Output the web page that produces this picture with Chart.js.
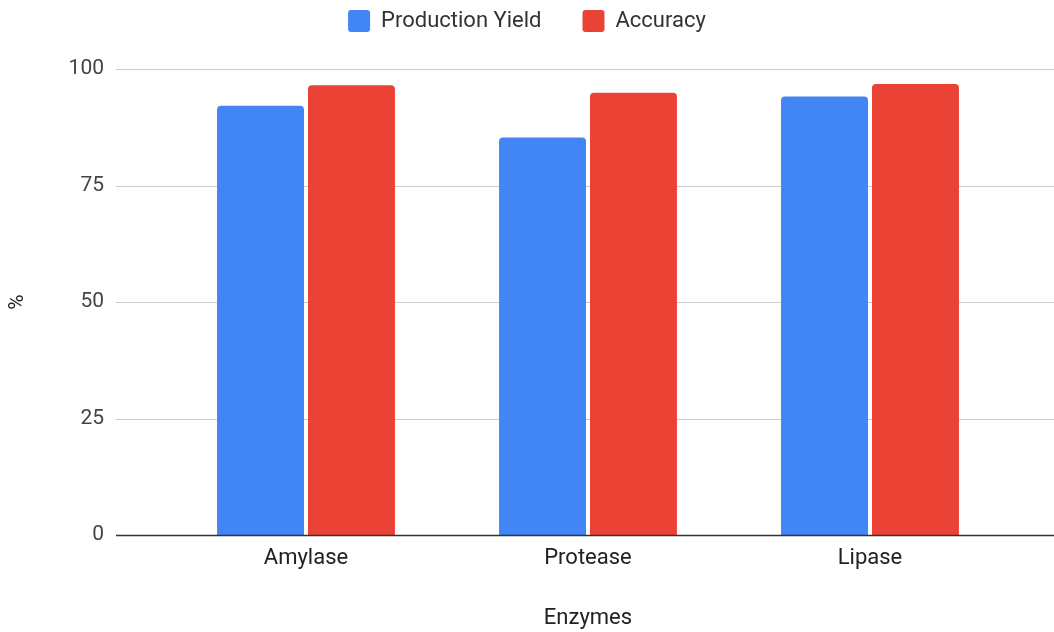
<!DOCTYPE html>
<html>
<head>
<meta charset="utf-8">
<script src="https://cdn.jsdelivr.net/npm/chart.js@4/dist/chart.umd.min.js"></script>
<style>
  html, body { margin: 0; padding: 0; background: #ffffff; }
  #wrap { width: 1054px; height: 632px; position: relative; }
</style>
</head>
<body>
<div id="wrap"><canvas id="chart"></canvas></div>
<script>
// Enzyme performance data (%)
const categories = ['Amylase', 'Protease', 'Lipase'];
const productionYield = [92.1, 85.3, 94.1];
const accuracy = [96.5, 94.9, 96.8];
const yTicks = [0, 25, 50, 75, 100];

const FONT = 'Roboto, "Liberation Sans", Arial, sans-serif';
const GRID_LEFT = 116;

// Empty layout boxes that reserve space (gap under the legend, right margin).
function spacer(position, size) {
  return {
    position,
    weight: 500,
    fullSize: false,
    options: {},
    isHorizontal() { return position === 'top' || position === 'bottom'; },
    update(maxWidth, maxHeight) {
      if (this.isHorizontal()) { this.width = maxWidth; this.height = size; }
      else { this.width = size; this.height = maxHeight; }
    },
    draw() {}
  };
}

const spacerPlugin = {
  id: 'spacers',
  beforeInit(chart) {
    Chart.layouts.addBox(chart, spacer('top', 27));
    Chart.layouts.addBox(chart, spacer('right', 43));
  }
};

// Horizontal gridlines running from the tick marks to the right edge,
// plus the darker zero baseline drawn over the bars.
const gridPlugin = {
  id: 'wideGrid',
  beforeDatasetsDraw(chart) {
    const y = chart.scales.y;
    const ctx = chart.ctx;
    ctx.save();
    ctx.strokeStyle = '#cccccc';
    ctx.lineWidth = 1;
    y.ticks.forEach(t => {
      if (t.value === 0) return;
      const py = Math.round(y.getPixelForValue(t.value)) + 0.5;
      ctx.beginPath();
      ctx.moveTo(GRID_LEFT, py);
      ctx.lineTo(chart.width, py);
      ctx.stroke();
    });
    ctx.restore();
  },
  afterDatasetsDraw(chart) {
    const y = chart.scales.y;
    const ctx = chart.ctx;
    const py = Math.round(y.getPixelForValue(0)) + 0.5;
    ctx.save();
    ctx.strokeStyle = '#333333';
    ctx.lineWidth = 1.5;
    ctx.beginPath();
    ctx.moveTo(GRID_LEFT, py);
    ctx.lineTo(chart.width, py);
    ctx.stroke();
    ctx.restore();
  }
};

const barStyle = {
  borderRadius: 4,
  borderSkipped: 'start',
  categoryPercentage: 0.645,
  barPercentage: 0.956
};

new Chart(document.getElementById('chart'), {
  type: 'bar',
  data: {
    labels: categories,
    datasets: [
      Object.assign({ label: 'Production Yield', data: productionYield, backgroundColor: '#4285F4' }, barStyle),
      Object.assign({ label: 'Accuracy', data: accuracy, backgroundColor: '#EA4335' }, barStyle)
    ]
  },
  options: {
    responsive: true,
    maintainAspectRatio: false,
    animation: false,
    layout: { padding: { top: -31, bottom: 0, left: 0, right: 0 } },
    plugins: {
      legend: {
        position: 'top',
        labels: {
          boxWidth: 22,
          boxHeight: 22,
          useBorderRadius: true,
          borderRadius: 3,
          padding: 41,
          color: '#333333',
          font: { family: FONT, size: 22 }
        }
      },
      tooltip: { enabled: false }
    },
    scales: {
      x: {
        grid: { display: false, drawTicks: false },
        border: { display: false },
        ticks: {
          padding: 10,
          color: '#222222',
          font: { family: FONT, size: 22 }
        },
        title: {
          display: true,
          text: 'Enzymes',
          color: '#222222',
          font: { family: FONT, size: 22 },
          padding: { top: 24, bottom: 0 }
        }
      },
      y: {
        min: 0,
        max: 100,
        afterFit(scale) {
          scale.width = 165;
          scale.paddingTop = 0;
          scale.paddingBottom = 0;
        },
        afterBuildTicks(scale) { scale.ticks = yTicks.map(v => ({ value: v })); },
        grid: { display: false, drawTicks: false },
        border: { display: false },
        ticks: {
          padding: 61,
          color: '#444444',
          font: { family: FONT, size: 21 }
        },
        title: {
          display: true,
          text: '%',
          color: '#222222',
          font: { family: FONT, size: 21 },
          padding: { top: 5, bottom: 0 }
        }
      }
    }
  },
  plugins: [spacerPlugin, gridPlugin]
});
</script>
</body>
</html>
